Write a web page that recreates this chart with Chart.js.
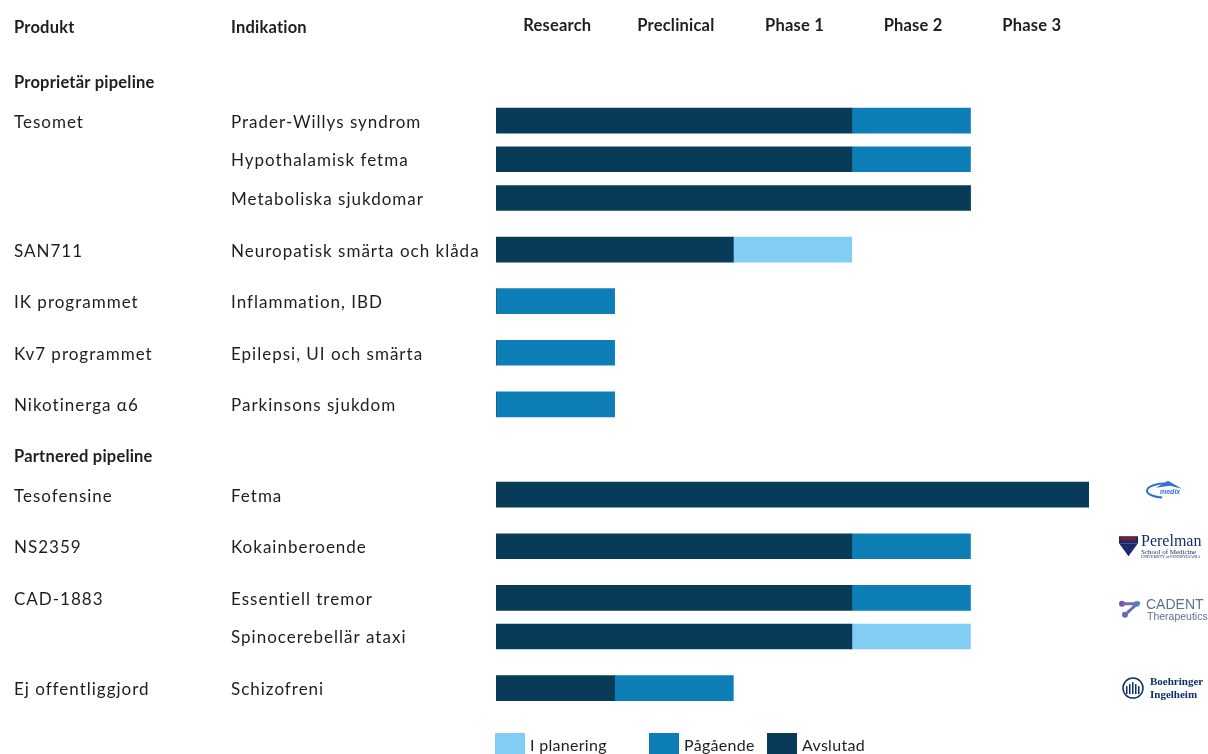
<!DOCTYPE html>
<html>
<head>
<meta charset="utf-8">
<script src="https://cdn.jsdelivr.net/npm/chart.js@4/dist/chart.umd.min.js"></script>
<style>
    html, body { margin: 0; padding: 0; background: #ffffff; }
</style>
</head>
<body>
<canvas id="pipelineChart" width="1208" height="754"></canvas>
<script>
const phases = ['Research', 'Preclinical', 'Phase 1', 'Phase 2', 'Phase 3'];
const sections = ['Proprietär pipeline', 'Partnered pipeline'];
const sectionFirstRow = [0, 7];

const products = ['Tesomet', '', '', 'SAN711', 'IK programmet', 'Kv7 programmet', 'Nikotinerga α6',
    'Tesofensine', 'NS2359', 'CAD-1883', '', 'Ej offentliggjord'];
const indications = ['Prader-Willys syndrom', 'Hypothalamisk fetma', 'Metaboliska sjukdomar',
    'Neuropatisk smärta och klåda', 'Inflammation, IBD', 'Epilepsi, UI och smärta', 'Parkinsons sjukdom',
    'Fetma', 'Kokainberoende', 'Essentiell tremor', 'Spinocerebellär ataxi', 'Schizofreni'];
const partners = ['', '', '', '', '', '', '', 'medix', 'Perelman', 'CADENT', '', 'Boehringer'];

// number of phases per status, in order avslutad -> pågående -> i planering
const completed = [3, 3, 4, 2, 0, 0, 0, 5, 3, 3, 3, 1];
const ongoing = [1, 1, 0, 0, 1, 1, 1, 0, 1, 1, 0, 1];
const planned = [0, 0, 0, 1, 0, 0, 0, 0, 0, 0, 1, 0];

const textColor = '#1e1e1e';
const regularFont = '17px Lato';
const boldFont = 'bold 16.5px Lato';

// row slots: 3 units inside a product / after a section header, 4 units otherwise
let rowSlot = [];
let sectionSlot = [];
let slot = 0;
for (let i = 0; i < products.length; i++) {
    let s = sectionFirstRow.indexOf(i);
    if (s >= 0) {
        if (i > 0) slot += 4;
        sectionSlot.push(slot);
        slot += 3;
    } else if (products[i] === '') {
        slot += 3;
    } else {
        slot += 4;
    }
    rowSlot.push(slot);
}

function toPoints(values) {
    return values.map((v, i) => ({ x: v, y: rowSlot[i] }));
}

const textPlugin = {
    id: 'pipelineText',
    afterDraw(chart) {
        const ctx = chart.ctx;
        const x = chart.scales.x;
        const y = chart.scales.y;
        ctx.save();
        ctx.fillStyle = textColor;
        ctx.textBaseline = 'middle';

        // header row
        ctx.font = boldFont;
        ctx.letterSpacing = '0.2px';
        ctx.textAlign = 'left';
        ctx.fillText('Produkt', 14, 28);
        ctx.fillText('Indikation', 231, 28);
        ctx.textAlign = 'center';
        phases.forEach((p, i) => ctx.fillText(p, x.getPixelForValue(i + 0.5) + 2, 26));

        ctx.textAlign = 'left';
        sections.forEach((s, i) => ctx.fillText(s, 14, y.getPixelForValue(sectionSlot[i]) + 1));

        ctx.font = regularFont;
        ctx.letterSpacing = '1px';
        products.forEach((p, i) => {
            let py = y.getPixelForValue(rowSlot[i]) + 1.5;
            if (p) ctx.fillText(p, 14, py);
            ctx.fillText(indications[i], 231, py);
        });
        ctx.letterSpacing = '0px';

        partners.forEach((p, i) => {
            if (p) drawPartner(ctx, p, y.getPixelForValue(rowSlot[i]));
        });

        drawLegend(chart);
        ctx.restore();
    }
};

function drawPartner(ctx, name, py) {
    ctx.save();
    ctx.textAlign = 'left';
    ctx.textBaseline = 'middle';
    if (name === 'medix') {
        py -= 5;
        ctx.strokeStyle = '#3a6fd0';
        ctx.lineWidth = 2;
        ctx.beginPath();
        ctx.ellipse(1165, py + 1, 18, 7, 0, Math.PI * 0.55, Math.PI * 1.6);
        ctx.stroke();
        ctx.fillStyle = '#3a6fd0';
        ctx.beginPath();
        ctx.moveTo(1156, py - 2);
        ctx.lineTo(1168, py - 9);
        ctx.lineTo(1182, py - 1);
        ctx.lineTo(1170, py - 4);
        ctx.closePath();
        ctx.fill();
        ctx.font = 'italic bold 7px Arial';
        ctx.fillText('medix', 1160, py + 2);
    } else if (name === 'Perelman') {
        ctx.fillStyle = '#1a2a6c';
        ctx.fillRect(1119, py - 10, 19, 7);
        ctx.beginPath();
        ctx.moveTo(1119, py - 3);
        ctx.lineTo(1138, py - 3);
        ctx.lineTo(1128.5, py + 10);
        ctx.closePath();
        ctx.fill();
        ctx.fillStyle = '#8a1a2a';
        ctx.fillRect(1121, py - 9, 15, 3);
        ctx.fillStyle = '#1a2a6c';
        ctx.font = '16px "Liberation Serif"';
        ctx.fillText('Perelman', 1141, py - 4);
        ctx.font = '7px "Liberation Serif"';
        ctx.fillText('School of Medicine', 1141, py + 6);
        ctx.font = '4px "Liberation Serif"';
        ctx.fillText('UNIVERSITY of PENNSYLVANIA', 1141, py + 11);
    } else if (name === 'CADENT') {
        let cy = py + 12;
        ctx.fillStyle = '#7a4fa0';
        ctx.beginPath(); ctx.arc(1122, cy - 6, 3, 0, Math.PI * 2); ctx.fill();
        ctx.fillStyle = '#4aa3c8';
        ctx.beginPath(); ctx.arc(1137, cy - 6, 3, 0, Math.PI * 2); ctx.fill();
        ctx.fillStyle = '#5d6fa8';
        ctx.beginPath(); ctx.arc(1125, cy + 5, 3, 0, Math.PI * 2); ctx.fill();
        ctx.strokeStyle = '#6a6fb0';
        ctx.lineWidth = 3;
        ctx.beginPath();
        ctx.moveTo(1122, cy - 6); ctx.lineTo(1137, cy - 6); ctx.lineTo(1125, cy + 5);
        ctx.stroke();
        ctx.fillStyle = '#5f7196';
        ctx.font = '14px "Liberation Sans"';
        ctx.fillText('CADENT', 1146, cy - 5);
        ctx.font = '10.5px "Liberation Sans Narrow", "Liberation Sans"';
        ctx.fillText('Therapeutics', 1147, cy + 7);
    } else if (name === 'Boehringer') {
        ctx.strokeStyle = '#0b2f6b';
        ctx.lineWidth = 1.5;
        ctx.beginPath();
        ctx.arc(1133, py, 10, 0, Math.PI * 2);
        ctx.stroke();
        ctx.fillStyle = '#0b2f6b';
        for (let k = -2; k <= 2; k++) {
            ctx.fillRect(1132 + k * 3, py - 6 + Math.abs(k) * 2, 1.5, 12 - Math.abs(k) * 2);
        }
        ctx.font = 'bold 11px "Liberation Serif"';
        ctx.fillText('Boehringer', 1150, py - 6);
        ctx.fillText('Ingelheim', 1150, py + 7);
    }
    ctx.restore();
}

function drawLegend(chart) {
    const ctx = chart.ctx;
    const order = [2, 1, 0];
    const boxX = [495, 649, 767];
    ctx.font = '16px Lato';
    ctx.letterSpacing = '0.3px';
    ctx.textAlign = 'left';
    ctx.textBaseline = 'middle';
    order.forEach((d, k) => {
        const ds = chart.data.datasets[d];
        ctx.fillStyle = ds.backgroundColor;
        ctx.fillRect(boxX[k], 733, 30, 22);
        ctx.fillStyle = textColor;
        ctx.fillText(ds.label, boxX[k] + 35, 746);
    });
    ctx.letterSpacing = '0px';
}

new Chart(document.getElementById('pipelineChart'), {
    type: 'bar',
    data: {
        datasets: [
            { label: 'Avslutad', data: toPoints(completed), backgroundColor: '#083b58' },
            { label: 'Pågående', data: toPoints(ongoing), backgroundColor: '#0e7eb7' },
            { label: 'I planering', data: toPoints(planned), backgroundColor: '#81cdf3' }
        ]
    },
    options: {
        indexAxis: 'y',
        responsive: false,
        animation: false,
        barThickness: 25,
        borderWidth: 0,
        layout: {
            padding: { left: 496, right: 119, top: 69, bottom: 53 }
        },
        scales: {
            x: { type: 'linear', min: 0, max: phases.length, stacked: true, offset: false, display: false },
            y: { type: 'linear', min: -1, max: 48, reverse: true, stacked: true, offset: false, display: false }
        },
        plugins: {
            legend: { display: false },
            tooltip: { enabled: false }
        }
    },
    plugins: [textPlugin]
});
</script>
</body>
</html>
